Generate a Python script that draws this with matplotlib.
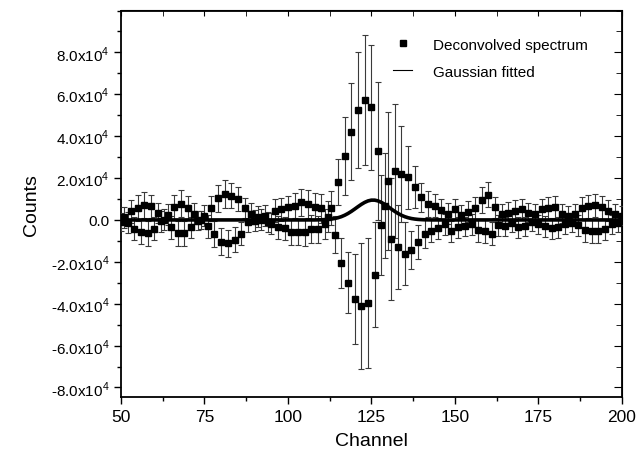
import numpy as np
import matplotlib
matplotlib.use('Agg')
import matplotlib.pyplot as plt
from matplotlib.lines import Line2D
from matplotlib.ticker import MultipleLocator

plt.rcParams['font.family'] = ['Liberation Sans', 'DejaVu Sans']
plt.rcParams['mathtext.fontset'] = 'custom'
plt.rcParams['mathtext.rm'] = 'Liberation Sans'

# deconvolved spectrum, one point per channel 50..200 (counts in units of 1e4)
channels = np.arange(50, 201)
counts_1e4 = [
    -0.10, 0.13, -0.14, 0.41, -0.43, 0.57, -0.56, 0.71, -0.63, 0.65,
    -0.43, 0.33, -0.06, 0.01, 0.24, -0.35, 0.60, -0.63, 0.78, -0.63,
    0.57, -0.35, 0.29, -0.03, 0.00, 0.20, -0.30, 0.56, -0.67, 1.03,
    -1.03, 1.24, -1.11, 1.16, -0.94, 1.00, -0.67, 0.57, -0.08, 0.29,
    -0.03, 0.16, 0.00, 0.20, -0.10, -0.19, 0.44, -0.35, 0.52, -0.40,
    0.60, -0.59, 0.68, -0.59, 0.84, -0.59, 0.76, -0.43, 0.64, -0.45,
    0.55, -0.19, 0.15, 0.56, -0.70, 1.82, -2.06, 3.06, -3.00, 4.22,
    -3.76, 5.25, -4.10, 5.73, -3.95, 5.37, -2.62, 3.30, -0.25, 0.68,
    1.87, -0.90, 2.35, -1.30, 2.19, -1.62, 2.03, -1.45, 1.56, -1.05,
    1.08, -0.67, 0.76, -0.51, 0.68, -0.40, 0.49, -0.20, 0.30, -0.55,
    0.50, -0.35, 0.25, -0.30, 0.40, -0.20, 0.55, -0.50, 0.95, -0.55,
    1.20, -0.65, 0.60, -0.25, 0.30, -0.30, 0.35, -0.15, 0.45, -0.35,
    0.50, -0.30, 0.35, -0.10, 0.30, -0.20, 0.50, -0.30, 0.55, -0.40,
    0.60, -0.35, 0.30, -0.20, 0.20, -0.15, 0.30, -0.25, 0.55, -0.50,
    0.65, -0.55, 0.70, -0.55, 0.60, -0.45, 0.45, -0.20, 0.30, -0.15,
    0.20,
]
errors_1e4 = [
    0.45, 0.50, 0.50, 0.55, 0.55, 0.60, 0.60, 0.60, 0.60, 0.55,
    0.55, 0.50, 0.50, 0.50, 0.50, 0.55, 0.60, 0.60, 0.65, 0.60,
    0.55, 0.50, 0.50, 0.45, 0.45, 0.50, 0.55, 0.60, 0.60, 0.65,
    0.65, 0.65, 0.65, 0.60, 0.60, 0.55, 0.55, 0.50, 0.50, 0.50,
    0.50, 0.50, 0.50, 0.50, 0.50, 0.50, 0.55, 0.55, 0.55, 0.55,
    0.55, 0.60, 0.60, 0.60, 0.65, 0.65, 0.65, 0.65, 0.65, 0.65,
    0.70, 0.70, 0.75, 0.80, 0.90, 1.10, 1.20, 1.85, 1.45, 2.30,
    2.15, 2.75, 3.00, 3.10, 3.10, 3.00, 2.50, 3.30, 2.40, 2.50,
    3.30, 2.90, 3.20, 2.00, 2.30, 1.50, 1.50, 0.90, 1.00, 0.80,
    0.70, 0.65, 0.60, 0.55, 0.55, 0.50, 0.50, 0.50, 0.50, 0.50,
    0.50, 0.50, 0.45, 0.45, 0.50, 0.50, 0.55, 0.55, 0.60, 0.55,
    0.60, 0.55, 0.50, 0.50, 0.45, 0.45, 0.50, 0.45, 0.50, 0.50,
    0.50, 0.45, 0.45, 0.45, 0.45, 0.45, 0.50, 0.50, 0.55, 0.50,
    0.55, 0.50, 0.45, 0.45, 0.45, 0.45, 0.45, 0.50, 0.55, 0.55,
    0.55, 0.55, 0.55, 0.55, 0.55, 0.50, 0.50, 0.45, 0.45, 0.45,
    0.45,
]

# gaussian fit curve (units of 1e4)
fit_channels = [50, 108, 110, 111, 112, 113, 114, 115, 116, 117, 118, 119, 120,
                121, 122, 123, 124, 125, 126, 127, 128, 129, 130, 131, 132,
                133, 134, 135, 136, 137, 138, 139, 140, 141, 143, 200]
fit_1e4 = [0.0, 0.0, 0.008, 0.015, 0.025, 0.042, 0.067, 0.105, 0.156, 0.224,
           0.308, 0.408, 0.519, 0.634, 0.744, 0.838, 0.908, 0.945, 0.945,
           0.908, 0.838, 0.744, 0.634, 0.519, 0.408, 0.308, 0.224, 0.156,
           0.105, 0.067, 0.042, 0.025, 0.014, 0.008, 0.0, 0.0]

counts = np.array(counts_1e4) * 1e4
errors = np.array(errors_1e4) * 1e4
fit = np.array(fit_1e4) * 1e4

ytick_vals = [-8e4, -6e4, -4e4, -2e4, 0, 2e4, 4e4, 6e4, 8e4]
ytick_labels = [r'-8.0x10$^4$', r'-6.0x10$^4$', r'-4.0x10$^4$', r'-2.0x10$^4$',
                '0.0', r'2.0x10$^4$', r'4.0x10$^4$', r'6.0x10$^4$', r'8.0x10$^4$']

fig = plt.figure(figsize=(6.37, 4.60), dpi=100)
ax = fig.add_axes([0.19, 0.135, 0.786, 0.84])

ax.errorbar(channels, counts, yerr=errors, fmt='s', color='black', ms=4.5,
            ecolor='#3a3a3a', elinewidth=0.8, capsize=2.2, capthick=0.8,
            zorder=3)
ax.plot(fit_channels, fit, color='black', lw=2.6, zorder=4)

ax.set_xlim(50, 200)
ax.set_ylim(-8.45e4, 1.0e5)
ax.set_xticks([50, 75, 100, 125, 150, 175, 200])
ax.xaxis.set_minor_locator(MultipleLocator(12.5))
ax.set_yticks(ytick_vals)
ax.set_yticklabels(ytick_labels)
ax.yaxis.set_minor_locator(MultipleLocator(1e4))

ax.tick_params(which='both', direction='out', top=False, right=False,
               width=1.0)
ax.tick_params(which='major', length=5)
ax.tick_params(which='minor', length=3)
ax.tick_params(axis='y', labelsize=11)
ax.tick_params(axis='x', labelsize=12.5)

# inward ticks on top and right spines
ax_top = ax.secondary_xaxis('top')
ax_top.set_xticks([50, 75, 100, 125, 150, 175, 200])
ax_top.xaxis.set_minor_locator(MultipleLocator(12.5))
ax_top.tick_params(which='both', direction='in', labeltop=False, length=4)
ax_top.set_xticklabels([])
ax_right = ax.secondary_yaxis('right')
ax_right.set_yticks(ytick_vals)
ax_right.yaxis.set_minor_locator(MultipleLocator(1e4))
ax_right.tick_params(which='major', direction='in', length=6)
ax_right.tick_params(which='minor', direction='in', length=4)
ax_right.set_yticklabels([])

for sp in ax.spines.values():
    sp.set_linewidth(1.3)

ax.set_xlabel('Channel', fontsize=14, labelpad=6)
ax.set_ylabel('Counts', fontsize=14, labelpad=8)

handles = [
    Line2D([], [], marker='s', ls='none', color='black', ms=4.5),
    Line2D([], [], color='black', lw=0.8),
]
ax.legend(handles, ['Deconvolved spectrum', 'Gaussian fitted'],
          loc='upper right', bbox_to_anchor=(0.96, 0.965), frameon=False,
          fontsize=11, handlelength=1.2, handletextpad=1.4,
          labelspacing=0.85)

fig.savefig('out.png', dpi=100)
